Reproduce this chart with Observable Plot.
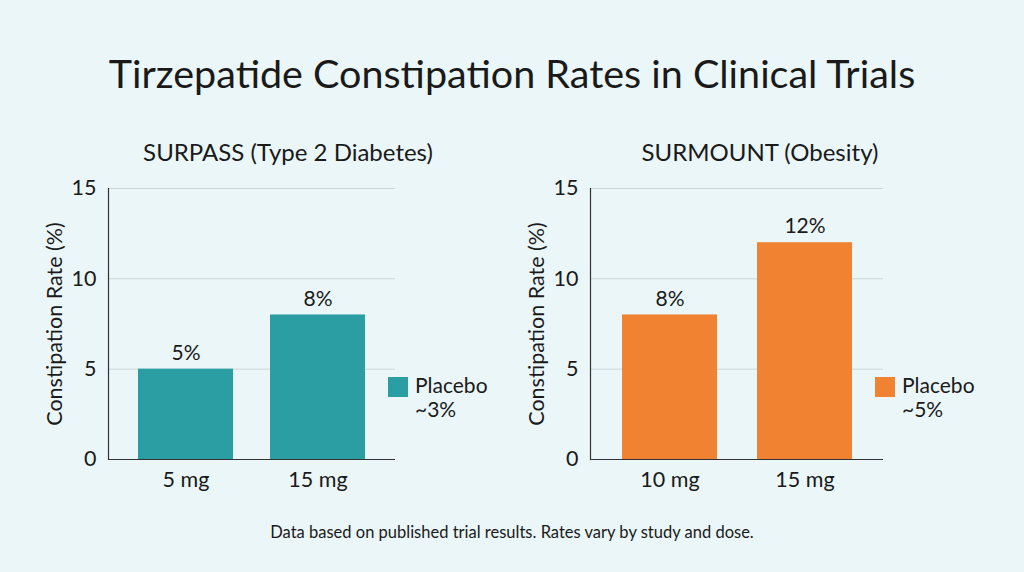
<!DOCTYPE html>
<html><head><meta charset="utf-8">
<script src="https://cdn.jsdelivr.net/npm/d3@7"></script>
<script src="https://cdn.jsdelivr.net/npm/@observablehq/plot@0.6"></script>
<style>
html,body{margin:0;padding:0;background:#eaf6f8;}
#wrap{position:relative;width:1024px;height:572px;overflow:hidden;font-family:Lato,"Noto Sans",sans-serif;color:#1a1a1a;background:#eaf6f8;}
.abs{position:absolute;white-space:nowrap;}
#title{left:0;width:1024px;top:49px;text-align:center;font-size:39.5px;}
.sub{font-size:24px;transform:translateX(-50%);}
#caption{left:0;width:1024px;top:522px;text-align:center;font-size:16.5px;}
.leg{font-size:21px;line-height:24px;}
.sw{position:absolute;width:20px;height:20px;}
</style></head>
<body><div id="wrap"></div>
<script>
const titleText = "Tirzepatide Constipation Rates in Clinical Trials";
const captionText = "Data based on published trial results. Rates vary by study and dose.";
const yTicks = [0, 5, 10, 15];
const yLabel = "Constipation Rate (%)";

const surpassTitle = "SURPASS (Type 2 Diabetes)";
const surpassDoses = ["5 mg", "15 mg"];
const surpassRates = [5, 8];
const surpassPlacebo = "~3%";

const surmountTitle = "SURMOUNT (Obesity)";
const surmountDoses = ["10 mg", "15 mg"];
const surmountRates = [8, 12];
const surmountPlacebo = "~5%";

const teal = "#2a9ea3", orange = "#f08232";

const wrap = document.getElementById("wrap");
function add(cls, id, text, style) {
  const d = document.createElement("div");
  d.className = "abs " + cls; if (id) d.id = id;
  d.textContent = text; Object.assign(d.style, style || {});
  wrap.appendChild(d); return d;
}
add("", "title", titleText);
add("", "caption", captionText);

function panel(doses, rates, color, opts) {
  const data = doses.map((d, i) => ({dose: d, rate: rates[i]}));
  const p = Plot.plot({
    width: opts.width, height: 330,
    marginLeft: 108, marginRight: opts.marginRight, marginTop: 18, marginBottom: 41,
    style: {background: "transparent", fontFamily: "Lato, 'Noto Sans', sans-serif", fontSize: "21px", color: "#1a1a1a", overflow: "visible"},
    x: {domain: doses, paddingInner: opts.pi, paddingOuter: opts.po, label: null},
    y: {domain: [0, 15]},
    marks: [
      Plot.gridY(yTicks, {stroke: "#cdd6d8", strokeOpacity: 1, strokeWidth: 1}),
      Plot.barY(data, {x: "dose", y: "rate", fill: color}),
      Plot.text(data, {x: "dose", y: "rate", text: d => d.rate + "%", dy: -16, fontSize: 21, fill: "#1a1a1a"}),
      Plot.axisY({ticks: yTicks, tickSize: 0, tickPadding: 12, label: yLabel, labelAnchor: "center", labelArrow: "none", labelOffset: 62, fontSize: 21.5}),
      Plot.axisX({tickSize: 0, tickPadding: 12, label: null, fontSize: 21.5}),
      Plot.frame({anchor: "left", stroke: "#333", strokeWidth: 1.2}),
      Plot.ruleY([0], {stroke: "#333", strokeWidth: 1.2})
    ]
  });
  p.style.position = "absolute";
  p.style.left = opts.left + "px";
  p.style.top = "170px";
  wrap.appendChild(p);
}

panel(surpassDoses, surpassRates, teal, {left: 0, width: 500, marginRight: 105, pi: 0.28, po: 0.227});
panel(surmountDoses, surmountRates, orange, {left: 482, width: 520, marginRight: 119, pi: 0.30, po: 0.235});

add("sub", null, surpassTitle, {left: "288px", top: "137px"});
add("sub", null, surmountTitle, {left: "760px", top: "137px"});

function legend(x, y, color, val) {
  const s = document.createElement("div");
  s.className = "sw"; s.style.left = x + "px"; s.style.top = y + "px"; s.style.background = color;
  wrap.appendChild(s);
  const t = add("leg", null, "", {left: (x + 27) + "px", top: (y - 4) + "px"});
  t.innerHTML = "Placebo<br>" + val;
}
legend(388, 377, teal, surpassPlacebo);
legend(875, 377, orange, surmountPlacebo);
</script></body></html>
